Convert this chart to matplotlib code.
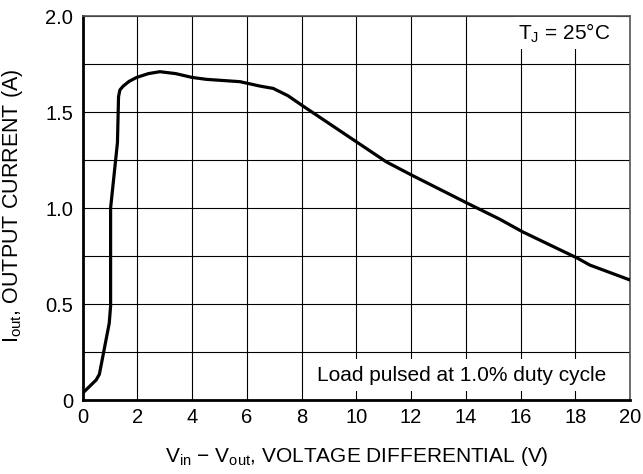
import matplotlib
matplotlib.use("Agg")
import matplotlib.pyplot as plt

# values
v_diff = [0.0, 0.49, 0.61, 0.97, 1.02, 1.02, 1.27, 1.31, 1.36, 1.48, 1.70, 1.97, 2.40,
          2.82, 3.40, 4.00, 4.53, 5.75, 6.48, 6.96, 7.50, 8.00, 10.0, 11.1, 12.04,
          14.07, 15.25, 16.06, 18.09, 18.53, 20.0]
i_out = [0.036, 0.104, 0.134, 0.40, 0.49, 1.00, 1.34, 1.58, 1.615, 1.635, 1.66, 1.68, 1.70,
         1.71, 1.70, 1.68, 1.67, 1.658, 1.635, 1.623, 1.585, 1.536, 1.345, 1.24, 1.17,
         1.024, 0.941, 0.877, 0.738, 0.703, 0.625]

x_ticks = list(range(0, 21, 2))
y_ticks = [0, 0.5, 1.0, 1.5, 2.0]
y_tick_labels = ["0", "0.5", "1.0", "1.5", "2.0"]
y_minor = [0.25, 0.75, 1.25, 1.75]

plt.rcParams['font.family'] = ['Liberation Sans', 'DejaVu Sans']
plt.rcParams['mathtext.default'] = 'regular'

fig = plt.figure(figsize=(6.43, 4.74), dpi=100)
ax = fig.add_axes([0.1286, 0.1561, 0.8512, 0.8101])

ax.plot(v_diff, i_out, color='black', lw=2.3, solid_capstyle='round',
        solid_joinstyle='round', zorder=4)

ax.set_xlim(0, 20)
ax.set_ylim(0, 2.0)
ax.set_xticks(x_ticks)
ax.set_yticks(y_ticks)
ax.set_yticklabels(y_tick_labels)
ax.set_yticks(y_minor, minor=True)
ax.grid(True, which='both', color='black', lw=0.8, zorder=1)
ax.set_axisbelow(True)
ax.tick_params(which='both', length=0, labelsize=14.5)
ax.tick_params(axis='y', pad=7)
ax.tick_params(axis='x', pad=6)

for side in ['left', 'bottom']:
    ax.spines[side].set_linewidth(2.0)
for side in ['top', 'right']:
    ax.spines[side].set_linewidth(1.2)
    ax.spines[side].set_color('#555555')

ax.set_xlabel(r'$V_{in}$ − $V_{out}$, VOLTAGE DIFFERENTIAL (V)', fontsize=15)
ax.set_ylabel(r'$I_{out}$, OUTPUT CURRENT (A)', fontsize=15.5)
ax.xaxis.set_label_coords(0.5, -0.118)
ax.yaxis.set_label_coords(-0.105, 0.505)

ax.text(17.6, 1.91, r'$T_J$ = 25°C', fontsize=15, ha='center', va='center',
        bbox=dict(facecolor='white', edgecolor='none', pad=3), zorder=3)
ax.text(13.85, 0.13, 'Load pulsed at 1.0% duty cycle', fontsize=15, ha='center',
        va='center', bbox=dict(facecolor='white', edgecolor='none', pad=5), zorder=3)

fig.savefig('out.png', dpi=100)
